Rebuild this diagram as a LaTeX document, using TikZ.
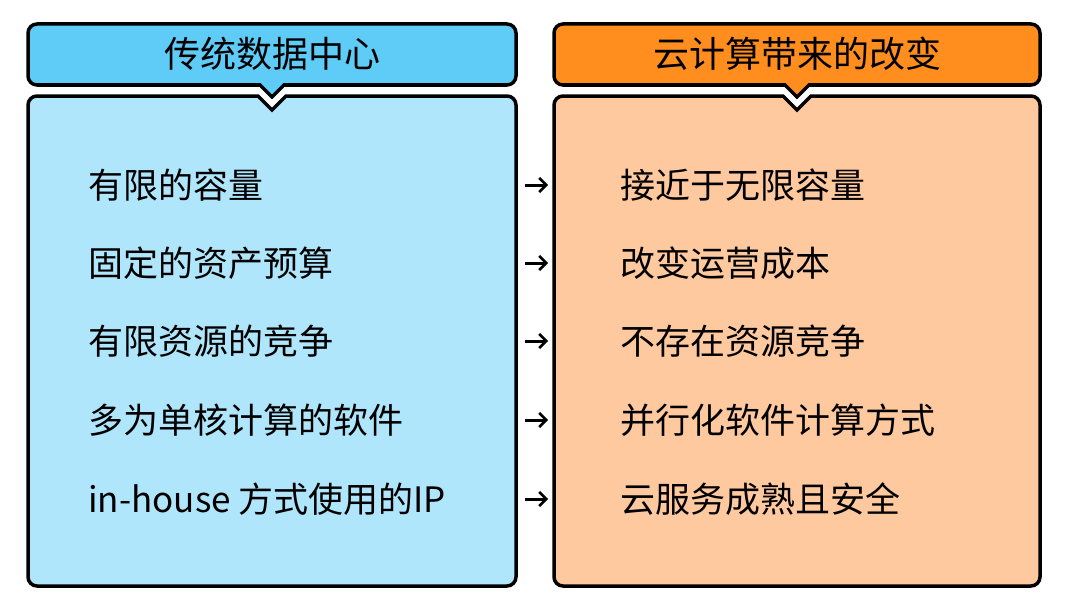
\documentclass[tikz,border=0pt]{standalone}
\usepackage{fontspec}
\setmainfont{Noto Sans CJK SC}
\usetikzlibrary{arrows.meta}
\definecolor{hb}{HTML}{5FCBF7}
\definecolor{bb}{HTML}{B0E6FC}
\definecolor{ho}{HTML}{FF8E1E}
\definecolor{bo}{HTML}{FFC9A0}
\tikzset{box/.style={draw=black,line width=3.5pt},
 item/.style={anchor=west,font=\fontsize{35}{38}\selectfont,inner sep=0pt},
 head/.style={font=\fontsize{36}{40}\selectfont,inner sep=0pt},
 arr/.style={-{Straight Barb[length=7pt,width=14pt,line width=2.5pt]},line width=3pt}}
\begin{document}
\begin{tikzpicture}[x=1pt,y=-1pt]
\useasboundingbox (0,0) rectangle (1071,602);
\foreach \xa/\xb/\hc/\bc/\nm in {28/516/hb/bb/L,554/1040/ho/bo/R}{
 \pgfmathsetmacro\xm{(\xa+\xb)/2}
 \draw[box,fill=\hc] [rounded corners=9pt] (\xa,54) -- (\xa,24) -- (\xb,24) -- (\xb,85) [sharp corners] -- (\xm+12,85) -- (\xm,97) -- (\xm-12,85) [rounded corners=9pt] -- (\xa,85) -- cycle;
 \draw[box,fill=\bc] [sharp corners] (\xm,110) -- (\xm+14,96) [rounded corners=9pt] -- (\xb,96) -- (\xb,586) -- (\xa,586) -- (\xa,96) [sharp corners] -- (\xm-14,96) -- cycle;
}
\node[head] (hl) at (272,54) {传统数据中心};
\node[head] (hr) at (797,54) {云计算带来的改变};
\foreach \i/\a/\b/\y in {1/有限的容量/接近于无限容量/185,2/固定的资产预算/改变运营成本/263,3/有限资源的竞争/不存在资源竞争/341,4/多为单核计算的软件/并行化软件计算方式/420,5/in-house 方式使用的IP/云服务成熟且安全/499}{
 \node[item] (l\i) at (88,\y) {\a};
 \node[item] (r\i) at (620,\y) {\b};
 \coordinate (s\i) at (525,\y);
 \coordinate (e\i) at (548,\y);
 \draw[arr] (s\i) -- (e\i);
}
\end{tikzpicture}
\end{document}
